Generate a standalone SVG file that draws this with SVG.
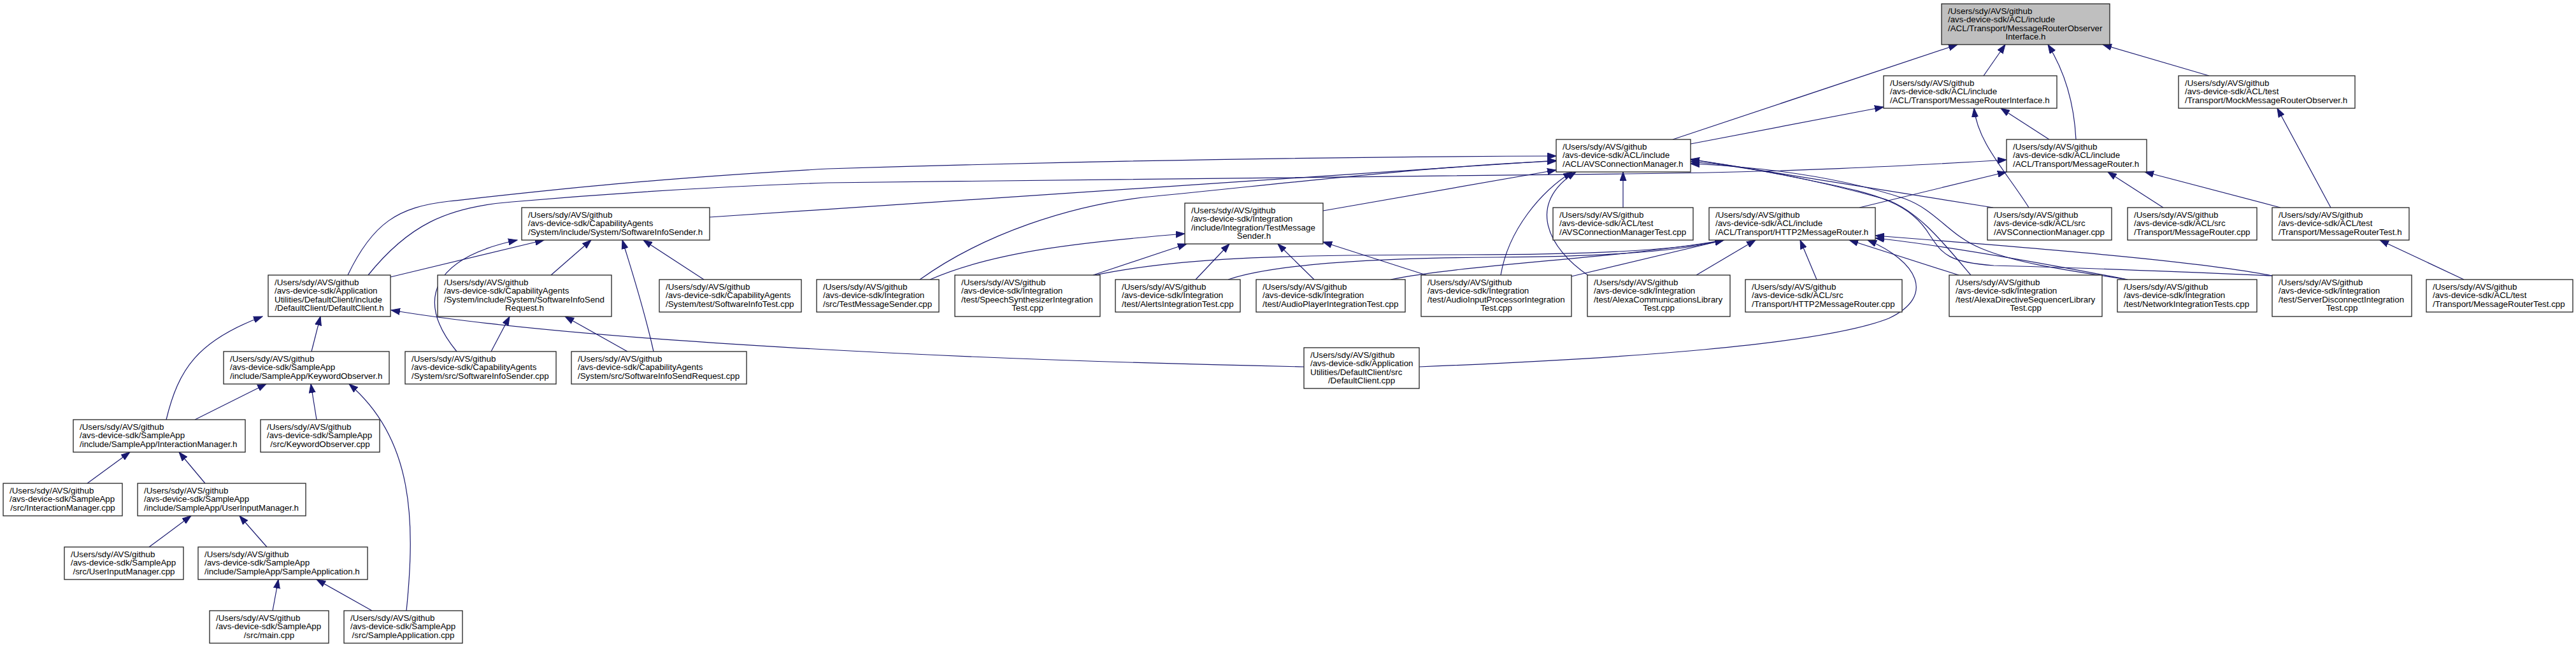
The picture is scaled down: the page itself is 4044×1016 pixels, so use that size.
<svg xmlns="http://www.w3.org/2000/svg" width="4044" height="1016" viewBox="0 0 4044 1016">
<style>
.node rect{fill:#ffffff;stroke:#222222;stroke-width:1.3}
.node rect.root{fill:#bfbfbf}
.node text{font-family:"Liberation Sans",Arial,Helvetica,sans-serif;font-size:13.33px;fill:#000000}
.c{text-anchor:middle}
.edges path{fill:none;stroke:#191970;stroke-width:1.2;marker-end:url(#arr)}
</style>
<defs>
<marker id="arr" markerUnits="userSpaceOnUse" markerWidth="15" markerHeight="11" refX="14" refY="5.5" orient="auto">
<path d="M0,0.5 L14,5.5 L0,10.5 z" fill="#191970" stroke="#191970" stroke-width="1"/>
</marker>
</defs>
<rect x="0" y="0" width="4044" height="1016" fill="#ffffff"/>
<g class="edges" id="edges">
<path d="M3114,119 L3148,70"/>
<path d="M3468,119 L3301,70"/>
<path d="M2626,219 L3073,70"/>
<path d="M3259,219 C3256,160 3240,110 3215,70"/>
<path d="M2654,226 L2957,168"/>
<path d="M3217,219 L3141,170"/>
<path d="M3185,326 C3150,270 3105,225 3099,170"/>
<path d="M3659,326 L3575,170"/>
<path d="M3580,326 L3367,270"/>
<path d="M3396,326 L3309,270"/>
<path d="M2919,326 L3150,270"/>
<path d="M3129,326 L2654,250"/>
<path d="M2548,326 L2548,270"/>
<path d="M3868,439 L3736,377"/>
<path d="M546,432 C585,350 625,325 705,316 C850,300 1000,282 1300,265 C1700,253 2100,246 2443,245"/>
<path d="M578,432 C640,355 700,325 804,317 C1000,300 1150,292 1300,287 C1800,278 2200,274 2550,273 C2800,271 3000,260 3150,251"/>
<path d="M613,435 L854,377"/>
<path d="M1114,341 L2443,252"/>
<path d="M2077,331 L2443,267"/>
<path d="M1444,439 C1540,370 1680,320 1814,308 C2000,290 2250,260 2443,253"/>
<path d="M1460,439 C1560,395 1700,380 1860,367"/>
<path d="M1716,432 L1863,383"/>
<path d="M1877,439 L1930,383"/>
<path d="M2063,439 L2006,383"/>
<path d="M2239,432 L2077,380"/>
<path d="M2356,432 C2368,360 2420,300 2468,270"/>
<path d="M2494,433 C2430,390 2395,320 2474,270"/>
<path d="M1719,432 C1850,405 2000,400 2300,400 C2500,400 2640,392 2706,377"/>
<path d="M1928,439 C2000,415 2150,405 2350,404 C2550,403 2650,392 2706,377"/>
<path d="M2183,439 C2300,415 2550,405 2706,377"/>
<path d="M2467,434 L2706,377"/>
<path d="M2663,432 L2756,377"/>
<path d="M2852,439 L2826,377"/>
<path d="M3075,432 L2903,377"/>
<path d="M2228,576 C2500,565 2850,545 2965,500 C3040,465 3010,410 2932,377"/>
<path d="M3567,433 C3450,410 3200,390 2944,370"/>
<path d="M3340,439 C3200,412 3050,385 2944,374"/>
<path d="M3094,432 C3050,380 3010,330 2960,313 C2850,282 2750,262 2654,254"/>
<path d="M3340,439 C3250,425 3170,415 3110,390 C3060,370 3040,330 2990,312 C2880,275 2760,262 2654,257"/>
<path d="M3567,433 C3450,428 3250,420 3130,417 C3060,412 3050,400 3030,370 C3000,320 2950,305 2850,285 C2770,268 2710,258 2654,251"/>
<path d="M2047,576 C1500,565 900,535 614,487"/>
<path d="M489,552 L503,497"/>
<path d="M261,659 C280,580 310,535 412,497"/>
<path d="M306,659 L418,603"/>
<path d="M497,659 L488,603"/>
<path d="M638,959 C652,820 650,690 548,603"/>
<path d="M137,759 L204,710"/>
<path d="M322,759 L281,710"/>
<path d="M234,859 L300,810"/>
<path d="M419,859 L376,810"/>
<path d="M428,959 L437,910"/>
<path d="M584,959 L497,910"/>
<path d="M717,552 C650,470 680,405 812,377"/>
<path d="M865,432 L928,377"/>
<path d="M1026,552 C1010,480 990,420 977,377"/>
<path d="M1105,439 L1010,377"/>
<path d="M771,552 L800,497"/>
<path d="M985,552 L887,497"/>
</g>
<g id="n0" class="node"><rect class="root" x="3048" y="6" width="264" height="64"/><text y="22"><tspan x="3058">/Users/sdy/AVS/github</tspan><tspan x="3058" dy="13.33">/avs-device-sdk/ACL/include</tspan><tspan x="3058" dy="13.33">/ACL/Transport/MessageRouterObserver</tspan><tspan class="c" x="3180" dy="13.33">Interface.h</tspan></text></g>
<g id="n1" class="node"><rect x="2957" y="119" width="272" height="51"/><text y="135"><tspan x="2967">/Users/sdy/AVS/github</tspan><tspan x="2967" dy="13.33">/avs-device-sdk/ACL/include</tspan><tspan x="2967" dy="13.33">/ACL/Transport/MessageRouterInterface.h</tspan></text></g>
<g id="n2" class="node"><rect x="3420" y="119" width="277" height="51"/><text y="135"><tspan x="3430">/Users/sdy/AVS/github</tspan><tspan x="3430" dy="13.33">/avs-device-sdk/ACL/test</tspan><tspan x="3430" dy="13.33">/Transport/MockMessageRouterObserver.h</tspan></text></g>
<g id="n3" class="node"><rect x="2443" y="219" width="211" height="51"/><text y="235"><tspan x="2453">/Users/sdy/AVS/github</tspan><tspan x="2453" dy="13.33">/avs-device-sdk/ACL/include</tspan><tspan x="2453" dy="13.33">/ACL/AVSConnectionManager.h</tspan></text></g>
<g id="n4" class="node"><rect x="3150" y="219" width="220" height="51"/><text y="235"><tspan x="3160">/Users/sdy/AVS/github</tspan><tspan x="3160" dy="13.33">/avs-device-sdk/ACL/include</tspan><tspan x="3160" dy="13.33">/ACL/Transport/MessageRouter.h</tspan></text></g>
<g id="n5" class="node"><rect x="819" y="326" width="295" height="51"/><text y="342"><tspan x="829">/Users/sdy/AVS/github</tspan><tspan x="829" dy="13.33">/avs-device-sdk/CapabilityAgents</tspan><tspan x="829" dy="13.33">/System/include/System/SoftwareInfoSender.h</tspan></text></g>
<g id="n6" class="node"><rect x="1860" y="319" width="217" height="64"/><text y="335"><tspan x="1870">/Users/sdy/AVS/github</tspan><tspan x="1870" dy="13.33">/avs-device-sdk/Integration</tspan><tspan x="1870" dy="13.33">/include/Integration/TestMessage</tspan><tspan class="c" x="1968.5" dy="13.33">Sender.h</tspan></text></g>
<g id="n7" class="node"><rect x="2438" y="326" width="220" height="51"/><text y="342"><tspan x="2448">/Users/sdy/AVS/github</tspan><tspan x="2448" dy="13.33">/avs-device-sdk/ACL/test</tspan><tspan x="2448" dy="13.33">/AVSConnectionManagerTest.cpp</tspan></text></g>
<g id="n8" class="node"><rect x="2683" y="326" width="261" height="51"/><text y="342"><tspan x="2693">/Users/sdy/AVS/github</tspan><tspan x="2693" dy="13.33">/avs-device-sdk/ACL/include</tspan><tspan x="2693" dy="13.33">/ACL/Transport/HTTP2MessageRouter.h</tspan></text></g>
<g id="n9" class="node"><rect x="3120" y="326" width="195" height="51"/><text y="342"><tspan x="3130">/Users/sdy/AVS/github</tspan><tspan x="3130" dy="13.33">/avs-device-sdk/ACL/src</tspan><tspan x="3130" dy="13.33">/AVSConnectionManager.cpp</tspan></text></g>
<g id="n10" class="node"><rect x="3340" y="326" width="203" height="51"/><text y="342"><tspan x="3350">/Users/sdy/AVS/github</tspan><tspan x="3350" dy="13.33">/avs-device-sdk/ACL/src</tspan><tspan x="3350" dy="13.33">/Transport/MessageRouter.cpp</tspan></text></g>
<g id="n11" class="node"><rect x="3567" y="326" width="215" height="51"/><text y="342"><tspan x="3577">/Users/sdy/AVS/github</tspan><tspan x="3577" dy="13.33">/avs-device-sdk/ACL/test</tspan><tspan x="3577" dy="13.33">/Transport/MessageRouterTest.h</tspan></text></g>
<g id="n12" class="node"><rect x="421" y="432" width="192" height="65"/><text y="448"><tspan x="431">/Users/sdy/AVS/github</tspan><tspan x="431" dy="13.33">/avs-device-sdk/Application</tspan><tspan x="431" dy="13.33">Utilities/DefaultClient/include</tspan><tspan class="c" x="517" dy="13.33">/DefaultClient/DefaultClient.h</tspan></text></g>
<g id="n13" class="node"><rect x="687" y="432" width="273" height="65"/><text y="448"><tspan x="697">/Users/sdy/AVS/github</tspan><tspan x="697" dy="13.33">/avs-device-sdk/CapabilityAgents</tspan><tspan x="697" dy="13.33">/System/include/System/SoftwareInfoSend</tspan><tspan class="c" x="823.5" dy="13.33">Request.h</tspan></text></g>
<g id="n14" class="node"><rect x="1035" y="439" width="223" height="51"/><text y="455"><tspan x="1045">/Users/sdy/AVS/github</tspan><tspan x="1045" dy="13.33">/avs-device-sdk/CapabilityAgents</tspan><tspan x="1045" dy="13.33">/System/test/SoftwareInfoTest.cpp</tspan></text></g>
<g id="n15" class="node"><rect x="1282" y="439" width="192" height="51"/><text y="455"><tspan x="1292">/Users/sdy/AVS/github</tspan><tspan x="1292" dy="13.33">/avs-device-sdk/Integration</tspan><tspan x="1292" dy="13.33">/src/TestMessageSender.cpp</tspan></text></g>
<g id="n16" class="node"><rect x="1499" y="432" width="228" height="65"/><text y="448"><tspan x="1509">/Users/sdy/AVS/github</tspan><tspan x="1509" dy="13.33">/avs-device-sdk/Integration</tspan><tspan x="1509" dy="13.33">/test/SpeechSynthesizerIntegration</tspan><tspan class="c" x="1613" dy="13.33">Test.cpp</tspan></text></g>
<g id="n17" class="node"><rect x="1751" y="439" width="196" height="51"/><text y="455"><tspan x="1761">/Users/sdy/AVS/github</tspan><tspan x="1761" dy="13.33">/avs-device-sdk/Integration</tspan><tspan x="1761" dy="13.33">/test/AlertsIntegrationTest.cpp</tspan></text></g>
<g id="n18" class="node"><rect x="1972" y="439" width="234" height="51"/><text y="455"><tspan x="1982">/Users/sdy/AVS/github</tspan><tspan x="1982" dy="13.33">/avs-device-sdk/Integration</tspan><tspan x="1982" dy="13.33">/test/AudioPlayerIntegrationTest.cpp</tspan></text></g>
<g id="n19" class="node"><rect x="2231" y="432" width="236" height="65"/><text y="448"><tspan x="2241">/Users/sdy/AVS/github</tspan><tspan x="2241" dy="13.33">/avs-device-sdk/Integration</tspan><tspan x="2241" dy="13.33">/test/AudioInputProcessorIntegration</tspan><tspan class="c" x="2349" dy="13.33">Test.cpp</tspan></text></g>
<g id="n20" class="node"><rect x="2492" y="432" width="224" height="65"/><text y="448"><tspan x="2502">/Users/sdy/AVS/github</tspan><tspan x="2502" dy="13.33">/avs-device-sdk/Integration</tspan><tspan x="2502" dy="13.33">/test/AlexaCommunicationsLibrary</tspan><tspan class="c" x="2604" dy="13.33">Test.cpp</tspan></text></g>
<g id="n21" class="node"><rect x="2740" y="439" width="246" height="51"/><text y="455"><tspan x="2750">/Users/sdy/AVS/github</tspan><tspan x="2750" dy="13.33">/avs-device-sdk/ACL/src</tspan><tspan x="2750" dy="13.33">/Transport/HTTP2MessageRouter.cpp</tspan></text></g>
<g id="n22" class="node"><rect x="3060" y="432" width="240" height="65"/><text y="448"><tspan x="3070">/Users/sdy/AVS/github</tspan><tspan x="3070" dy="13.33">/avs-device-sdk/Integration</tspan><tspan x="3070" dy="13.33">/test/AlexaDirectiveSequencerLibrary</tspan><tspan class="c" x="3180" dy="13.33">Test.cpp</tspan></text></g>
<g id="n23" class="node"><rect x="3324" y="439" width="219" height="51"/><text y="455"><tspan x="3334">/Users/sdy/AVS/github</tspan><tspan x="3334" dy="13.33">/avs-device-sdk/Integration</tspan><tspan x="3334" dy="13.33">/test/NetworkIntegrationTests.cpp</tspan></text></g>
<g id="n24" class="node"><rect x="3567" y="432" width="219" height="65"/><text y="448"><tspan x="3577">/Users/sdy/AVS/github</tspan><tspan x="3577" dy="13.33">/avs-device-sdk/Integration</tspan><tspan x="3577" dy="13.33">/test/ServerDisconnectIntegration</tspan><tspan class="c" x="3676.5" dy="13.33">Test.cpp</tspan></text></g>
<g id="n25" class="node"><rect x="3809" y="439" width="230" height="51"/><text y="455"><tspan x="3819">/Users/sdy/AVS/github</tspan><tspan x="3819" dy="13.33">/avs-device-sdk/ACL/test</tspan><tspan x="3819" dy="13.33">/Transport/MessageRouterTest.cpp</tspan></text></g>
<g id="n26" class="node"><rect x="351" y="552" width="260" height="51"/><text y="568"><tspan x="361">/Users/sdy/AVS/github</tspan><tspan x="361" dy="13.33">/avs-device-sdk/SampleApp</tspan><tspan x="361" dy="13.33">/include/SampleApp/KeywordObserver.h</tspan></text></g>
<g id="n27" class="node"><rect x="636" y="552" width="237" height="51"/><text y="568"><tspan x="646">/Users/sdy/AVS/github</tspan><tspan x="646" dy="13.33">/avs-device-sdk/CapabilityAgents</tspan><tspan x="646" dy="13.33">/System/src/SoftwareInfoSender.cpp</tspan></text></g>
<g id="n28" class="node"><rect x="897" y="552" width="275" height="51"/><text y="568"><tspan x="907">/Users/sdy/AVS/github</tspan><tspan x="907" dy="13.33">/avs-device-sdk/CapabilityAgents</tspan><tspan x="907" dy="13.33">/System/src/SoftwareInfoSendRequest.cpp</tspan></text></g>
<g id="n29" class="node"><rect x="2047" y="546" width="181" height="64"/><text y="562"><tspan x="2057">/Users/sdy/AVS/github</tspan><tspan x="2057" dy="13.33">/avs-device-sdk/Application</tspan><tspan x="2057" dy="13.33">Utilities/DefaultClient/src</tspan><tspan class="c" x="2137.5" dy="13.33">/DefaultClient.cpp</tspan></text></g>
<g id="n30" class="node"><rect x="115" y="659" width="270" height="51"/><text y="675"><tspan x="125">/Users/sdy/AVS/github</tspan><tspan x="125" dy="13.33">/avs-device-sdk/SampleApp</tspan><tspan x="125" dy="13.33">/include/SampleApp/InteractionManager.h</tspan></text></g>
<g id="n31" class="node"><rect x="409" y="659" width="187" height="51"/><text y="675"><tspan x="419">/Users/sdy/AVS/github</tspan><tspan x="419" dy="13.33">/avs-device-sdk/SampleApp</tspan><tspan class="c" x="502.5" dy="13.33">/src/KeywordObserver.cpp</tspan></text></g>
<g id="n32" class="node"><rect x="5" y="759" width="187" height="51"/><text y="775"><tspan x="15">/Users/sdy/AVS/github</tspan><tspan x="15" dy="13.33">/avs-device-sdk/SampleApp</tspan><tspan class="c" x="98.5" dy="13.33">/src/InteractionManager.cpp</tspan></text></g>
<g id="n33" class="node"><rect x="216" y="759" width="264" height="51"/><text y="775"><tspan x="226">/Users/sdy/AVS/github</tspan><tspan x="226" dy="13.33">/avs-device-sdk/SampleApp</tspan><tspan x="226" dy="13.33">/include/SampleApp/UserInputManager.h</tspan></text></g>
<g id="n34" class="node"><rect x="101" y="859" width="187" height="51"/><text y="875"><tspan x="111">/Users/sdy/AVS/github</tspan><tspan x="111" dy="13.33">/avs-device-sdk/SampleApp</tspan><tspan class="c" x="194.5" dy="13.33">/src/UserInputManager.cpp</tspan></text></g>
<g id="n35" class="node"><rect x="311" y="859" width="266" height="51"/><text y="875"><tspan x="321">/Users/sdy/AVS/github</tspan><tspan x="321" dy="13.33">/avs-device-sdk/SampleApp</tspan><tspan x="321" dy="13.33">/include/SampleApp/SampleApplication.h</tspan></text></g>
<g id="n36" class="node"><rect x="329" y="959" width="187" height="51"/><text y="975"><tspan x="339">/Users/sdy/AVS/github</tspan><tspan x="339" dy="13.33">/avs-device-sdk/SampleApp</tspan><tspan class="c" x="422.5" dy="13.33">/src/main.cpp</tspan></text></g>
<g id="n37" class="node"><rect x="540" y="959" width="186" height="51"/><text y="975"><tspan x="550">/Users/sdy/AVS/github</tspan><tspan x="550" dy="13.33">/avs-device-sdk/SampleApp</tspan><tspan class="c" x="633" dy="13.33">/src/SampleApplication.cpp</tspan></text></g>
</svg>
